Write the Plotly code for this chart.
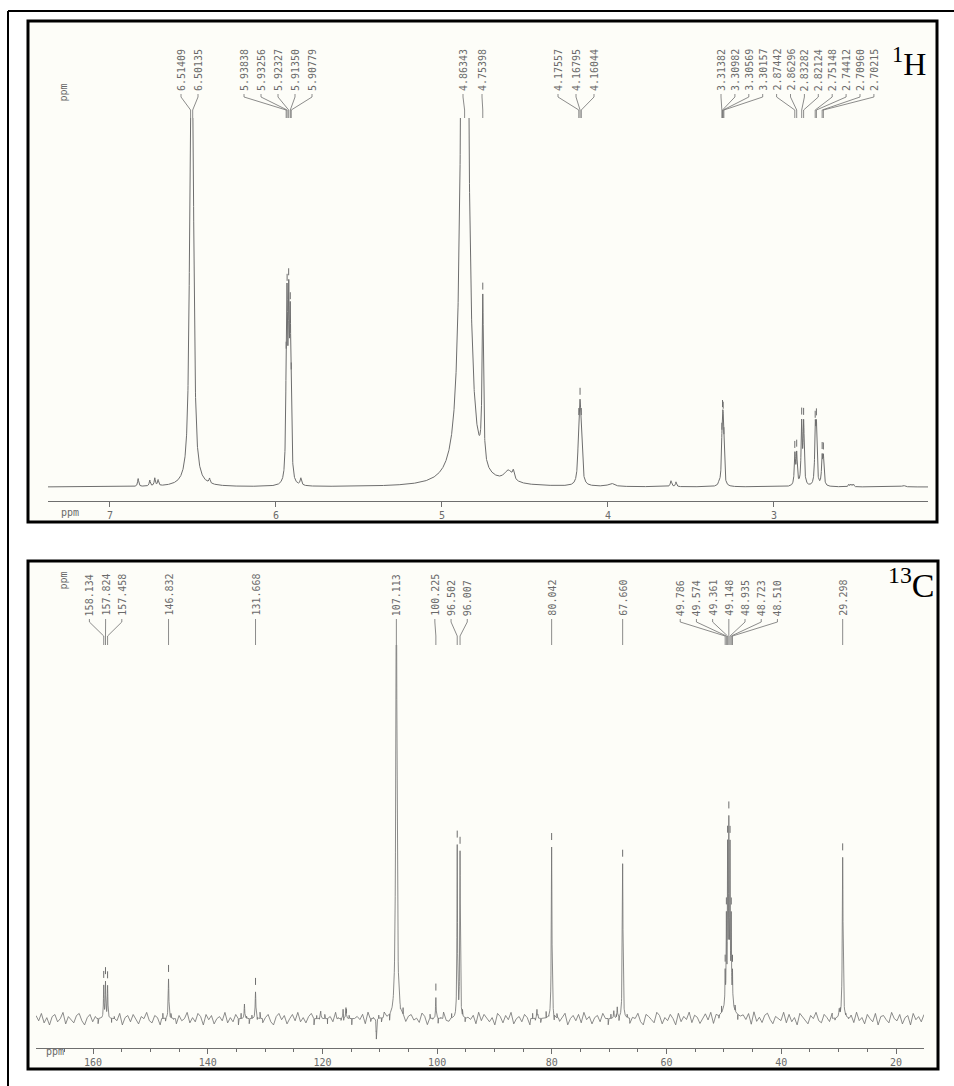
import numpy as np
import plotly.graph_objects as go

W, H = 954, 1086

# ---------------- 1H data ----------------
h_labels = [6.51409, 6.50135, 5.93838, 5.93256, 5.92327, 5.91350, 5.90779,
            4.86343, 4.75398, 4.17557, 4.16795, 4.16044,
            3.31382, 3.30982, 3.30569, 3.30157, 2.87442, 2.86296, 2.83282,
            2.82124, 2.75148, 2.74412, 2.70960, 2.70215]
# peaks drawn in the trace: position (ppm), height, half-width (ppm)
h_peak_ppm = [6.514, 6.501, 5.938, 5.933, 5.923, 5.914, 5.908,
              4.863, 4.754, 4.176, 4.168, 4.160,
              3.314, 3.310, 3.306, 3.302, 2.874, 2.863, 2.833, 2.821,
              2.751, 2.744, 2.710, 2.702,
              6.83, 6.76, 6.73, 6.71, 6.40, 5.85, 4.60, 4.57, 3.98, 3.62, 3.59,
              3.33, 2.55, 2.54, 2.53, 2.52, 2.22]
h_peak_h = [0.75, 0.75, 0.17, 0.38, 0.40, 0.34, 0.15,
            3.0, 0.42, 0.10, 0.15, 0.10,
            0.054, 0.102, 0.102, 0.054, 0.078, 0.078, 0.155, 0.155,
            0.135, 0.135, 0.068, 0.068,
            0.02, 0.015, 0.02, 0.015, 0.012, 0.018, 0.03, 0.02, 0.008, 0.015, 0.012,
            0.01, 0.006, 0.006, 0.006, 0.006, 0.004]
h_peak_w = [0.009, 0.009, 0.004, 0.004, 0.004, 0.004, 0.004,
            0.017, 0.005, 0.006, 0.006, 0.006,
            0.004, 0.004, 0.004, 0.004, 0.004, 0.004, 0.004, 0.004,
            0.004, 0.004, 0.004, 0.004,
            0.004, 0.004, 0.004, 0.004, 0.004, 0.005, 0.03, 0.006, 0.02, 0.005, 0.004,
            0.004, 0.003, 0.003, 0.003, 0.003, 0.01]
h_ticks = [7, 6, 5, 4, 3]
h_range = [7.373, 2.072]

# ---------------- 13C data ----------------
c_labels = [158.134, 157.824, 157.458, 146.832, 131.668, 107.113, 100.225,
            96.502, 96.007, 80.042, 67.660, 49.786, 49.574, 49.361, 49.148,
            48.935, 48.723, 48.510, 29.298]
c_peak_ppm = [158.134, 157.824, 157.458, 146.832, 131.668, 107.113, 100.225,
              96.502, 96.007, 80.042, 67.660, 49.786, 49.574, 49.361, 49.148,
              48.935, 48.723, 48.510, 29.298, 49.15,
              133.6, 116.4, 115.9, 120.3, 82.6, 68.6, 69.2, 29.9, 110.6]
c_peak_h = [0.077, 0.085, 0.077, 0.095, 0.064, 1.1, 0.05,
            0.41, 0.395, 0.41, 0.37, 0.07, 0.18, 0.32, 0.36,
            0.32, 0.18, 0.07, 0.385, 0.10,
            0.035, 0.022, 0.026, 0.018, 0.022, 0.026, 0.018, 0.018, -0.05]
c_peak_w = [0.06, 0.06, 0.06, 0.07, 0.07, 0.12, 0.06,
            0.06, 0.06, 0.07, 0.07, 0.04, 0.04, 0.04, 0.04,
            0.04, 0.04, 0.04, 0.08, 0.5,
            0.06, 0.06, 0.06, 0.06, 0.06, 0.06, 0.06, 0.08, 0.05]
# baseline noise read as texture along the 13C trace (units of 0.0025)
c_noise = [3, -2, 5, -4, 1, -6, 2, 4, -3, 0, 6, -5, 2, -1, -4, 3, 5, -2, -6, 1, 4, -3, 2, -5, 0, 3, -1, 6, -4, 2,
           -2, 5, -6, 1, 3, -3, 4, -1, -5, 2, 0, 6, -2, -4, 3, 1, -6, 5, -3, 2, 4, -1, -5, 3, -2, 0, 6, -4, 1, -3,
           5, 2, -6, 4, -1, 3, -5, 0, 2, -2, 6, -4, 1, -3, 4, -6, 5, -1, 2, -5, 3, 0, -2, 6, -4, 1, 4, -3, -6, 2,
           5, -1, 3, -5, 0, 4, -2, 6, -3, 1, -4, 2, 5, -6, 3, -1, 0, 4, -5, 2, -3, 6, 1, -2, -4, 5, 3, -6, 0, 2,
           -1, 4, -5, 6, -3, 1, -2, 3, -4, 5, 0, -6, 2, 4, -1, -3, 6, -5, 1, 3, -2, 0, -4, 5, 2, -6, 4, -1, 3, -5,
           1, 6, -2, -3, 4, 0, -6, 2, 5, -4, 1, -1, 3, -5, 6, -2, 4, 0, -3, 1, -6, 5, 2, -4, 3, -1, 6, -5, 0, 2,
           -3, 4, 1, -6, 5, -2, 3, -4, 0, 6, -1, 2, -5, 4, -3, 1, 5, -6, 0, 3, -2, 4, -4, 6, -1, 2, -5, 1, 3, -3,
           5, 0, -6, 4, -2, 2, -4, 6, -1, 3, -5, 1, 0, 5, -3, -6, 4, 2, -1, -4, 6, 3, -5, 1, -2, 4, 0, -6, 5, -3,
           2, -1, 6, -4, 3, 1, -5, 0, 4, -2, 5, -6, 2, -3, 6, 1, -4, 3, -1, 5, -5, 0, 2, -2, 4, -6, 6, -3, 1, -4,
           3, 5, -1, -5, 2, 0, -2, 6, -4, 4, -3, 1, -6, 5, 2, -1, -5, 3, 0, 6, -2, -4, 4, 1, -3, 5, -2, 0, 4, -5,
           2, -1, 3, -4, 6, -2, 1, -5, 4, 0, -3, 5, -6, 2, 3, -1, -4, 6, 0, -2, 4, -5, 1, 3, -6, 5, -1, 2, -3, 4]
c_ticks = [160, 140, 120, 100, 80, 60, 40, 20]
c_range = [169.94, 15.12]

# ---------------- layout helpers ----------------
def px(x):
    return x / W

def py(y):
    return 1 - y / H

H_X0, H_X1 = 48, 928        # 1H plot-area x (pixels)
C_X0, C_X1 = 36, 924        # 13C plot-area x (pixels)
H_TOP, H_BOT = 118, 501     # 1H plot area y
H_ZERO, H_UNIT = 487, 392   # 1H baseline pixel, pixels per intensity unit
C_TOP, C_BOT = 645, 1048    # 13C plot area y
C_ZERO, C_UNIT = 1018.7, 418.7

LINE_COL = "#6e6e6e"
TXT_COL = "#6a6a6a"
BG = "#fdfdf8"
MONO = "DejaVu Sans Mono"


def lorentz_sum(x, pos, hts, wid):
    y = np.zeros_like(x)
    for p, h, w in zip(pos, hts, wid):
        y += h * w * w / ((x - p) ** 2 + w * w)
    return y


def spread(pos_px, gap):
    """Place labels (pixel positions, ascending) without overlap."""
    clusters = [[p] for p in pos_px]
    while True:
        placed = []
        for c in clusters:
            n = len(c)
            start = np.mean(c) - (n - 1) * gap / 2
            placed.append((start, start + (n - 1) * gap))
        merged = False
        out = [clusters[0]]
        pl = [placed[0]]
        for c, p in zip(clusters[1:], placed[1:]):
            if p[0] - pl[-1][1] < gap:
                out[-1] = out[-1] + c
                n = len(out[-1])
                st = np.mean(out[-1]) - (n - 1) * gap / 2
                pl[-1] = (st, st + (n - 1) * gap)
                merged = True
            else:
                out.append(c)
                pl.append(p)
        clusters = out
        if not merged:
            break
    res = []
    for c, p in zip(clusters, pl):
        for i in range(len(c)):
            res.append(p[0] + i * gap)
    return res


fig = go.Figure()

# 1H trace
hx = np.linspace(h_range[0], h_range[1], 9000)
hy = lorentz_sum(hx, h_peak_ppm, h_peak_h, h_peak_w)
fig.add_trace(go.Scatter(x=hx, y=hy, mode="lines", line=dict(color=LINE_COL, width=1),
                         xaxis="x", yaxis="y", hoverinfo="skip"))

# 13C trace: noise grid plus dense sampling around each line
ngrid = np.linspace(c_range[0], c_range[1], len(c_noise))
dense = np.concatenate([p + np.linspace(-1.2, 1.2, 61) for p in c_peak_ppm])
cx = np.concatenate([ngrid, dense])
noise_full = np.concatenate([np.array(c_noise) * 0.0025, np.zeros(len(dense))])
order = np.argsort(-cx)
cx = cx[order]
cy = lorentz_sum(cx, c_peak_ppm, c_peak_h, c_peak_w) + noise_full[order]
fig.add_trace(go.Scatter(x=cx, y=cy, mode="lines", line=dict(color=LINE_COL, width=0.8),
                         xaxis="x2", yaxis="y2", hoverinfo="skip"))

# small peak-pick markers above labelled peaks
hl = np.array(h_labels)
hl_top = lorentz_sum(hl, h_peak_ppm, h_peak_h, h_peak_w)
keep = hl_top < 0.85
fig.add_trace(go.Scatter(x=hl[keep], y=hl_top[keep] + 0.02, mode="markers",
                         marker=dict(symbol="line-ns", size=5, line=dict(color=LINE_COL, width=1)),
                         xaxis="x", yaxis="y", hoverinfo="skip"))
cl = np.array(c_labels)
cl_top = lorentz_sum(cl, c_peak_ppm, c_peak_h, c_peak_w)
keep = cl_top < 0.85
fig.add_trace(go.Scatter(x=cl[keep], y=cl_top[keep] + 0.025, mode="markers",
                         marker=dict(symbol="line-ns", size=5, line=dict(color=LINE_COL, width=1)),
                         xaxis="x2", yaxis="y2", hoverinfo="skip"))

shapes = []
annotations = []

# outer frame (left and top edges)
shapes.append(dict(type="line", xref="paper", yref="paper", x0=px(8), x1=px(8), y0=py(11), y1=py(H + 5),
                   line=dict(color="black", width=2)))
shapes.append(dict(type="line", xref="paper", yref="paper", x0=px(8), x1=px(W + 5), y0=py(11), y1=py(11),
                   line=dict(color="black", width=2)))
# panels
for (l, t, r, b) in [(28, 21, 937, 522), (28, 561, 938, 1069)]:
    shapes.append(dict(type="rect", xref="paper", yref="paper", x0=px(l), x1=px(r), y0=py(b), y1=py(t),
                       line=dict(color="black", width=3), fillcolor=BG, layer="below"))


def draw_labels(labels, lab_px, axis, rng, x0, x1, y_text_bot, y_a, y_b, y_c, fmt, fsize):
    ppx = (x1 - x0) / (rng[0] - rng[1])
    for v, lp in zip(labels, lab_px):
        lx = rng[0] - (lp - x0) / ppx
        annotations.append(dict(x=lx, y=py(y_text_bot), xref=axis, yref="paper", text=fmt.format(v),
                                textangle=-90, showarrow=False, xanchor="center", yanchor="bottom",
                                font=dict(family=MONO, size=fsize, color=TXT_COL)))
        path = f"M {lx},{py(y_text_bot + 1)} L {lx},{py(y_a)} L {v},{py(y_b)} L {v},{py(y_c)}"
        shapes.append(dict(type="path", xref=axis, yref="paper", path=path,
                           line=dict(color=LINE_COL, width=0.8)))


# 1H label layout: (number of labels, first label pixel, pitch)
h_layout = [(2, 181, 17), (5, 244, 17), (1, 463, 0), (1, 482, 0), (3, 558, 18), (12, 721, 13.9)]
h_lab_px = []
for n, start, pitch in h_layout:
    h_lab_px += [start + i * pitch for i in range(n)]
draw_labels(h_labels, h_lab_px, "x", h_range, H_X0, H_X1, 93, 97, 110, H_TOP, "{:.5f}", 10)

c_ppx = (C_X1 - C_X0) / (c_range[0] - c_range[1])
c_lab_px = spread([C_X0 + (c_range[0] - v) * c_ppx for v in c_labels], 16.2)
draw_labels(c_labels, c_lab_px, "x2", c_range, C_X0, C_X1, 618, 622, 636, C_TOP, "{:.3f}", 10)

# "ppm" labels
for (x, y) in [(55, 82), (55, 581)]:
    annotations.append(dict(x=px(x), y=py(y), xref="paper", yref="paper", text="ppm", textangle=-90,
                            showarrow=False, font=dict(family=MONO, size=10, color=TXT_COL)))
for (x, y) in [(59, 512), (44, 1059)]:
    annotations.append(dict(x=px(x), y=py(y), xref="paper", yref="paper", text="ppm",
                            showarrow=False, font=dict(family=MONO, size=10, color=TXT_COL)))

# nucleus titles
annotations.append(dict(x=px(928), y=py(40), xref="paper", yref="paper", xanchor="right", yanchor="top",
                        text="<sup>1</sup>H", showarrow=False,
                        font=dict(family="Liberation Serif", size=32, color="black")))
annotations.append(dict(x=px(936), y=py(560), xref="paper", yref="paper", xanchor="right", yanchor="top",
                        text="<sup>13</sup>C", showarrow=False,
                        font=dict(family="Liberation Serif", size=34, color="black")))

axis_common = dict(showgrid=False, zeroline=False, showline=True, linecolor=LINE_COL, linewidth=1,
                   ticks="outside", ticklen=5, tickcolor=LINE_COL,
                   tickfont=dict(family=MONO, size=10, color=TXT_COL))

h_yr = [-(H_BOT - H_ZERO) / H_UNIT, (H_ZERO - H_TOP) / H_UNIT]
c_yr = [-(C_BOT - C_ZERO) / C_UNIT, (C_ZERO - C_TOP) / C_UNIT]

fig.update_layout(
    width=W, height=H, margin=dict(l=0, r=0, t=0, b=0),
    paper_bgcolor="white", plot_bgcolor="rgba(0,0,0,0)", showlegend=False,
    xaxis=dict(domain=[px(H_X0), px(H_X1)], range=h_range, tickvals=h_ticks, anchor="y", **axis_common),
    yaxis=dict(domain=[py(H_BOT), py(H_TOP)], range=h_yr, visible=False, anchor="x"),
    xaxis2=dict(domain=[px(C_X0), px(C_X1)], range=c_range, tickvals=c_ticks, anchor="y2",
                minor=dict(dtick=5, ticks="outside", ticklen=3, tickcolor=LINE_COL), **axis_common),
    yaxis2=dict(domain=[py(C_BOT), py(C_TOP)], range=c_yr, visible=False, anchor="x2"),
    shapes=shapes, annotations=annotations,
)

fig.write_html("out.html")
